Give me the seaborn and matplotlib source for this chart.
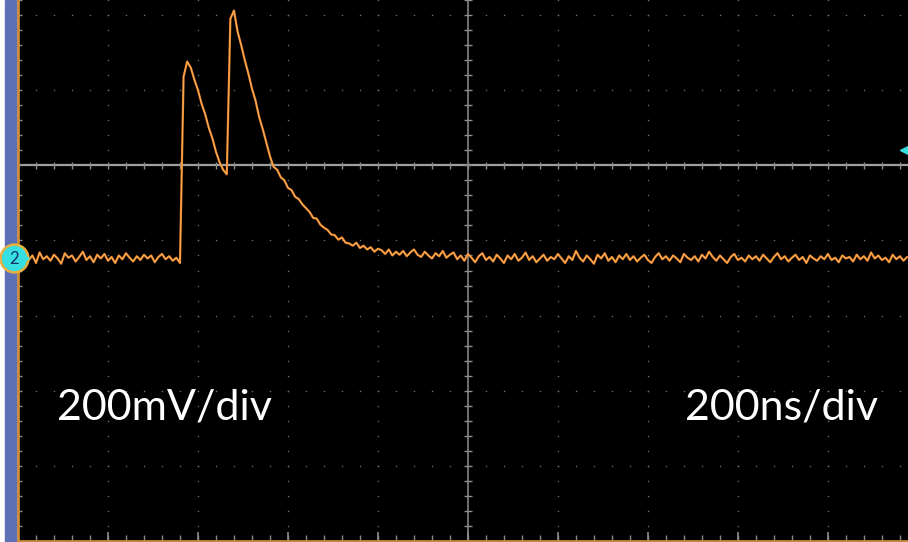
import numpy as np
import pandas as pd
import seaborn as sns
import matplotlib.pyplot as plt
from matplotlib.patches import Rectangle

# scope trace, in divisions (200 mV/div), one sample every 0.04 div (8 ns)
baseline_pre = [
    -1.22, -1.28, -1.18, -1.26, -1.20, -1.30, -1.16, -1.25, -1.21, -1.27,
    -1.19, -1.24, -1.31, -1.17, -1.23, -1.20, -1.28, -1.22, -1.15, -1.26,
    -1.21, -1.29, -1.19, -1.24, -1.18, -1.27, -1.22, -1.30, -1.20, -1.25,
    -1.17, -1.23, -1.28, -1.21, -1.26, -1.19, -1.24, -1.20, -1.29, -1.22,
    -1.18, -1.25, -1.21, -1.27, -1.23, -1.30,
]
pulses = [
    1.18, 1.38, 1.30, 1.14, 1.00, 0.82, 0.68, 0.50, 0.36, 0.18,
    0.04, -0.06, -0.12, 1.95, 2.06, 1.78, 1.60, 1.40, 1.22, 1.02,
    0.86, 0.64, 0.48, 0.30, 0.12, -0.02, -0.06, -0.16, -0.20, -0.30,
    -0.33, -0.42, -0.45, -0.52, -0.57, -0.62, -0.70, -0.71, -0.79, -0.83,
    -0.86, -0.92, -0.93, -0.99, -0.96, -1.03, -1.04, -1.07, -1.03, -1.10,
    -1.07, -1.12, -1.09, -1.15, -1.11,
]
baseline_post = [
    -1.13, -1.18, -1.12, -1.20, -1.15, -1.19, -1.14, -1.21, -1.16, -1.12,
    -1.19, -1.22, -1.15, -1.20, -1.24, -1.17, -1.21, -1.14, -1.23, -1.19,
    -1.16, -1.25, -1.20, -1.27, -1.18, -1.23, -1.29, -1.21, -1.17, -1.26,
    -1.22, -1.28, -1.19, -1.24, -1.30, -1.20, -1.25, -1.18, -1.27, -1.23,
    -1.16, -1.26, -1.21, -1.29, -1.24, -1.19, -1.27, -1.22, -1.25, -1.18,
    -1.24, -1.30, -1.21, -1.26, -1.14, -1.23, -1.28, -1.20, -1.25, -1.31,
    -1.19, -1.24, -1.17, -1.27, -1.22, -1.29, -1.20, -1.25, -1.18, -1.26,
    -1.21, -1.28, -1.23, -1.19, -1.26, -1.30, -1.22, -1.17, -1.25, -1.21,
    -1.27, -1.20, -1.24, -1.29, -1.18, -1.23, -1.26, -1.21, -1.28, -1.19,
    -1.24, -1.15, -1.22, -1.27, -1.20, -1.25, -1.30, -1.22, -1.18, -1.26,
    -1.23, -1.28, -1.20, -1.25, -1.21, -1.27, -1.19, -1.24, -1.29, -1.22,
    -1.17, -1.25, -1.21, -1.28, -1.23, -1.19, -1.26, -1.22, -1.30, -1.20,
    -1.24, -1.27, -1.21, -1.25, -1.18, -1.26, -1.23, -1.29, -1.20, -1.24,
    -1.22, -1.28, -1.19, -1.25, -1.21, -1.27, -1.16, -1.24, -1.20, -1.26,
    -1.23, -1.29, -1.19, -1.25, -1.21, -1.27, -1.22,
]
t_start = -5.0
t_step = 0.04
channel_offset = -1.24
trigger_level = 0.21
labels = ["200mV/div", "200ns/div"]

volts = baseline_pre + pulses + baseline_post
df = pd.DataFrame({"t": t_start + t_step * np.arange(len(volts)), "v": volts})

sns.set_theme(style="dark", rc={"axes.facecolor": "black"})
plt.rcParams["font.family"] = ["Lato", "DejaVu Sans"]

fig = plt.figure(figsize=(9.08, 5.42), dpi=100, facecolor="white")
ax = fig.add_axes([18 / 908, 1 / 542, 890 / 908, 541 / 542])
ax.set_facecolor("black")
ax.set_xlim(-5.0, 4.89)
ax.set_ylim(-5.0, 2.2)

# graticule
grid_col = "#8c8c8c"
minor = np.round(np.arange(-5.0, 5.01, 0.2), 2)
for k in range(-4, 5):
    if k == 0:
        continue
    ys = minor[(minor >= -5) & (minor <= 2.2)]
    ax.scatter(np.full(len(ys), k), ys, s=1.2, color="#6e6e6e", lw=0, zorder=1)
for k in [-4, -3, -2, -1, 1, 2]:
    ax.scatter(minor, np.full(len(minor), k), s=1.2, color="#6e6e6e", lw=0, zorder=1)

ax.axhline(0, color="#a0a0a0", lw=1.6, zorder=1)
ax.axvline(0, color="#7a7a7a", lw=1.3, zorder=1)
ax.vlines(minor, -0.05, 0.05, color=grid_col, lw=1, zorder=1)
ax.hlines(minor, -0.045, 0.045, color=grid_col, lw=1, zorder=1)
# edge ticks
ax.hlines(minor, -5.0, -4.95, color=grid_col, lw=1, zorder=1)
ax.vlines(minor, -5.0, -4.92, color=grid_col, lw=1, zorder=1)
ax.vlines(np.arange(-5, 5), -5.0, -4.88, color=grid_col, lw=1.2, zorder=1)

sns.lineplot(data=df, x="t", y="v", ax=ax, color="#e5832a", lw=1.6,
             estimator=None, zorder=3)
sns.lineplot(data=df, x="t", y="v", ax=ax, color="#ffb25e", lw=0.6,
             estimator=None, zorder=4)

ax.set_xticks([])
ax.set_yticks([])
ax.set_xlabel("")
ax.set_ylabel("")
for side in ["top", "right"]:
    ax.spines[side].set_visible(False)
for side in ["left", "bottom"]:
    ax.spines[side].set_color("#c88a3a")
    ax.spines[side].set_linewidth(2)

# blue side bar
fig.add_artist(Rectangle((5 / 908, 0), 11 / 908, 1, transform=fig.transFigure,
                         color="#5d70b5", zorder=0))

# channel marker and trigger marker
ax.plot([-5.045], [channel_offset], marker="o", ms=20, mfc="#38dfe0",
        mec="#e8b040", mew=1.8, clip_on=False, zorder=6)
ax.text(-5.045, channel_offset - 0.01, "2", ha="center", va="center", fontsize=12,
        color="#10306a", clip_on=False, zorder=7)
ax.plot([-4.92], [channel_offset], marker=">", ms=6, color="#38dfe0",
        clip_on=False, zorder=6)
ax.plot([4.88], [trigger_level], marker="<", ms=10, color="#38dfe0", zorder=6)

ax.text(-4.57, -3.22, labels[0], color="white", fontsize=31, va="center")
ax.text(2.41, -3.22, labels[1], color="white", fontsize=31, va="center")

fig.savefig("out.png", dpi=100, facecolor="white")
